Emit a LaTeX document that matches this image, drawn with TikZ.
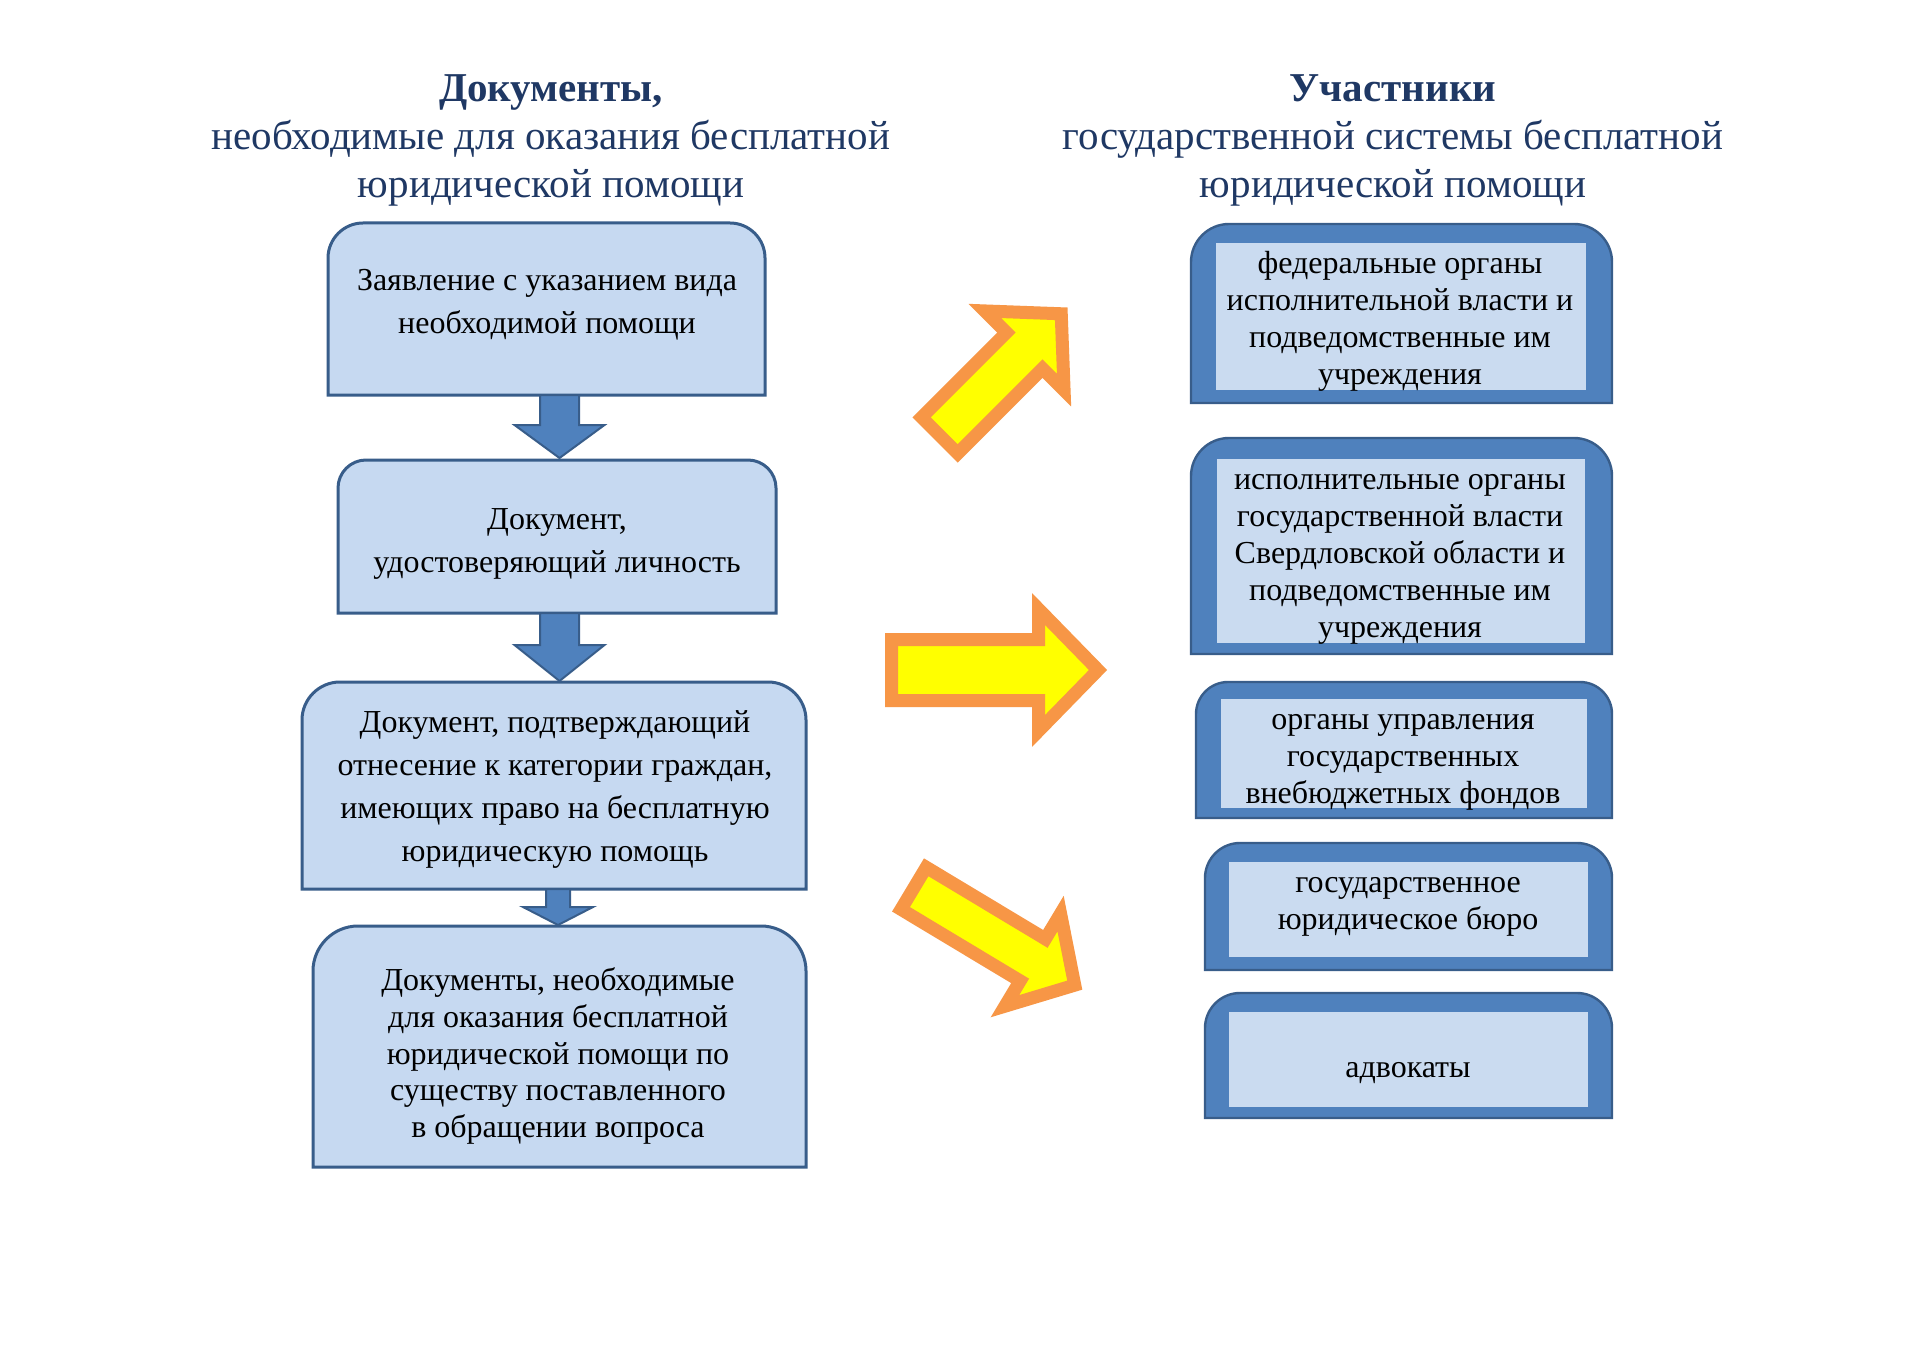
\documentclass[tikz,border=0pt]{standalone}
\usepackage{fontspec}
\setmainfont{Liberation Serif}
\usetikzlibrary{calc,fit}
\definecolor{boxfill}{RGB}{198,217,241}
\definecolor{boxline}{RGB}{56,93,138}
\definecolor{arrblue}{RGB}{79,129,189}
\definecolor{innerfill}{RGB}{202,219,240}
\definecolor{yel}{RGB}{255,255,0}
\definecolor{org}{RGB}{247,150,70}
\definecolor{titlec}{RGB}{31,56,100}
\newcommand\toprnd[3]{%
 \path[#3] (#1.south west) -- ($(#1.north west)+(0,#2)$) .. controls ($(#1.north west)+(0,{0.45*#2})$) and ($(#1.north west)+({0.45*#2},0)$) .. ($(#1.north west)+(#2,0)$) -- ($(#1.north east)+(-#2,0)$) .. controls ($(#1.north east)+({-0.45*#2},0)$) and ($(#1.north east)+(0,{0.45*#2})$) .. ($(#1.north east)+(0,#2)$) -- (#1.south east) -- cycle;}
\newcommand\downarr[6]{% cx y0 yh ytip sw hw
 \draw[bluearrow] ({#1-#5},#2) -- ({#1-#5},#3) -- ({#1-#6},#3) -- (#1,#4) -- ({#1+#6},#3) -- ({#1+#5},#3) -- ({#1+#5},#2) -- cycle;}
\newcommand\yarr[7]{% x y angle L w hl h
 \begin{scope}[shift={(#1,#2)},rotate=#3]
 \draw[yarrow] (0,-#5) -- ({#4-#6},-#5) -- ({#4-#6},-#7) -- (#4,0) -- ({#4-#6},#7) -- ({#4-#6},#5) -- (0,#5) -- cycle;
 \end{scope}}
\tikzset{
 shp/.style={inner sep=0pt,outer sep=0pt,draw=none},
 leftbox/.style={fill=boxfill,draw=boxline,line width=1.5pt},
 outerbox/.style={fill=arrblue,draw=boxline,line width=1.2pt},
 innerbox/.style={fill=innerfill,draw=none},
 bluearrow/.style={fill=arrblue,draw=boxline,line width=1pt,line join=miter},
 yarrow/.style={fill=yel,draw=org,line width=6.5pt,line join=miter},
 ttl/.style={align=center,text=titlec,inner sep=0pt,font=\fontsize{20.5}{23.9}\selectfont},
 ltxt/.style={align=center,inner sep=0pt,font=\fontsize{16}{21.5}\selectfont},
 ltxts/.style={align=center,inner sep=0pt,font=\fontsize{16}{18.3}\selectfont},
 rtxt/.style={align=center,inner sep=0pt,font=\fontsize{16}{18.5}\selectfont},
}
\begin{document}
\begin{tikzpicture}[x=0.5pt,y=-0.5pt]
\fill[white] (0,0) rectangle (1920,1358);
\useasboundingbox (0,0) rectangle (1920,1358);
% titles
\node[ttl] (lt) at (551,140.5) {\textbf{Документы,}\\необходимые для оказания бесплатной\\юридической помощи};
\node[ttl] (rt) at (1393,140.5) {\textbf{Участники}\\государственной системы бесплатной\\юридической помощи};
% left boxes
\node[shp,fit={(328,223) (765,395)}] (b1) {};
\node[shp,fit={(338,460) (776,613)}] (b2) {};
\node[shp,fit={(302,682) (806,889)}] (b3) {};
\node[shp,fit={(313,926) (806,1167)}] (b4) {};
\toprnd{b1}{35}{leftbox}
\toprnd{b2}{28}{leftbox}
\toprnd{b3}{38}{leftbox}
\toprnd{b4}{45}{leftbox}
\node[ltxt] (t1) at (547,305) {Заявление с указанием вида\\необходимой помощи};
\node[ltxt] (t2) at (557,544) {Документ,\\удостоверяющий личность};
\node[ltxt] (t3) at (555,789) {Документ, подтверждающий\\отнесение к категории граждан,\\имеющих право на бесплатную\\юридическую помощь};
\node[ltxts] (t4) at (558,1056) {Документы, необходимые\\для оказания бесплатной\\юридической помощи по\\существу поставленного\\в обращении вопроса};
% down arrows
\downarr{559.5}{395}{425}{458}{19.5}{45}
\downarr{559.5}{613}{645}{681}{19.5}{45}
\downarr{558}{889}{907}{925}{12}{35}
% right boxes
\node[shp,fit={(1191,224) (1612,403)}] (r1) {};
\node[shp,fit={(1216,243) (1586,390)}] (i1) {};
\node[shp,fit={(1191,438) (1612,654)}] (r2) {};
\node[shp,fit={(1217,459) (1585,643)}] (i2) {};
\node[shp,fit={(1196,682) (1612,818)}] (r3) {};
\node[shp,fit={(1221,699) (1587,808)}] (i3) {};
\node[shp,fit={(1205,843) (1612,970)}] (r4) {};
\node[shp,fit={(1229,862) (1588,957)}] (i4) {};
\node[shp,fit={(1205,993) (1612,1118)}] (r5) {};
\node[shp,fit={(1229,1012) (1588,1107)}] (i5) {};
\toprnd{r1}{38}{outerbox}
\toprnd{r2}{38}{outerbox}
\toprnd{r3}{32}{outerbox}
\toprnd{r4}{35}{outerbox}
\toprnd{r5}{35}{outerbox}
\fill[innerbox] (i1.north west) rectangle (i1.south east);
\fill[innerbox] (i2.north west) rectangle (i2.south east);
\fill[innerbox] (i3.north west) rectangle (i3.south east);
\fill[innerbox] (i4.north west) rectangle (i4.south east);
\fill[innerbox] (i5.north west) rectangle (i5.south east);
\node[rtxt] (s1) at (1400,321) {федеральные органы\\исполнительной власти и\\подведомственные им\\учреждения};
\node[rtxt] (s2) at (1400,559.5) {исполнительные органы\\государственной власти\\Свердловской области и\\подведомственные им\\учреждения};
\node[rtxt] (s3) at (1403,762) {органы управления\\государственных\\внебюджетных фондов};
\node[rtxt] (s4) at (1408,907) {государственное\\юридическое бюро};
\node[rtxt] (s5) at (1408,1073) {адвокаты};
% yellow arrows
\yarr{939.6}{435.4}{45}{172}{25.5}{52}{56}
\yarr{891.5}{670}{0}{206.5}{30.5}{59.5}{61}
\yarr{913.6}{888.3}{-31}{188}{24.5}{49}{54}
\end{tikzpicture}
\end{document}
